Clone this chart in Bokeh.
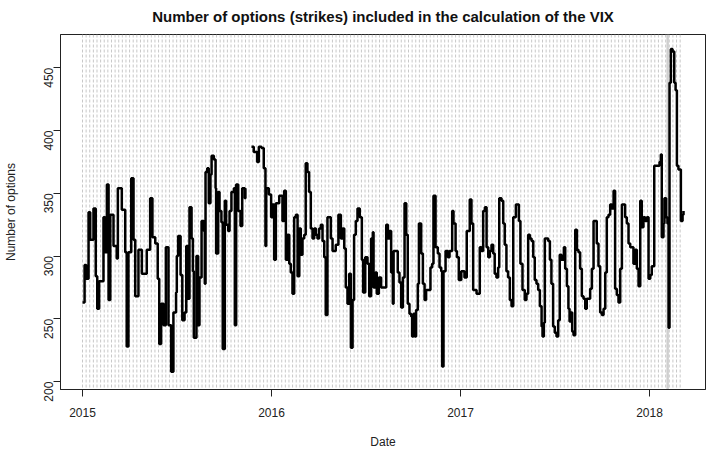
import math
import numpy as np
from bokeh.plotting import figure
from bokeh.models import Range1d, FixedTicker, Span, ColumnDataSource
from bokeh.embed import file_html
from bokeh.resources import INLINE

# ---- data (years since 2015-01-01, number of options) ----
# period before the data gap (Jan 2015 - mid Nov 2015)
period1_t = [0.000, 0.011, 0.020, 0.032, 0.041, 0.058, 0.070, 0.078, 0.088, 0.111, 0.120, 0.129, 0.138,
             0.147, 0.164, 0.181, 0.187, 0.208, 0.226, 0.234, 0.243, 0.258, 0.270, 0.279, 0.296, 0.314,
             0.340, 0.358, 0.370, 0.385, 0.398, 0.406, 0.416, 0.429, 0.441, 0.455, 0.469, 0.481, 0.495,
             0.499, 0.506, 0.519, 0.528, 0.540, 0.549, 0.559, 0.566, 0.577, 0.584, 0.589, 0.603, 0.612,
             0.619, 0.630, 0.642, 0.647, 0.651, 0.660, 0.668, 0.677, 0.683, 0.695, 0.704, 0.707, 0.718,
             0.725, 0.735, 0.742, 0.753, 0.760, 0.771, 0.778, 0.788, 0.801, 0.806, 0.813, 0.824, 0.836,
             0.845, 0.859, 0.862]
period1_n = [263, 293, 282, 335, 313, 338, 284, 258, 280, 331, 303, 357, 265,
             333, 308, 298, 354, 337, 303, 228, 303, 362, 313, 268, 305, 286,
             305, 346, 315, 310, 282, 230, 262, 245, 307, 245, 208, 255, 271,
             300, 316, 285, 249, 255, 308, 266, 339, 314, 288, 235, 300, 245,
             283, 328, 320, 278, 367, 370, 342, 365, 380, 377, 354, 302, 351,
             336, 327, 226, 344, 325, 320, 336, 351, 354, 245, 357, 336, 324,
             354, 346, 354]

# period after the data gap (late Nov 2015 - Mar 2018)
period2_t = [0.894, 0.906, 0.924, 0.933, 0.947, 0.959, 0.968, 0.972, 0.986, 0.998, 1.005, 1.014, 1.023,
             1.041, 1.058, 1.067, 1.076, 1.085, 1.094, 1.102, 1.111, 1.120, 1.129, 1.138, 1.147, 1.155,
             1.164, 1.173, 1.181, 1.190, 1.199, 1.208, 1.217, 1.226, 1.235, 1.243, 1.252, 1.261, 1.270,
             1.279, 1.287, 1.296, 1.305, 1.314, 1.323, 1.340, 1.354, 1.367, 1.376, 1.385, 1.393, 1.402,
             1.411, 1.420, 1.429, 1.437, 1.446, 1.455, 1.467, 1.478, 1.485, 1.496, 1.508, 1.517, 1.527,
             1.536, 1.540, 1.550, 1.557, 1.568, 1.580, 1.593, 1.607, 1.616, 1.624, 1.633, 1.642, 1.646,
             1.656, 1.668, 1.677, 1.686, 1.695, 1.704, 1.713, 1.721, 1.730, 1.739, 1.744, 1.751, 1.758,
             1.765, 1.774, 1.780, 1.792, 1.801, 1.810, 1.818, 1.832, 1.841, 1.850, 1.857, 1.868, 1.880,
             1.889, 1.898, 1.903, 1.910, 1.921, 1.933, 1.942, 1.956, 1.963, 1.974, 1.981, 1.991, 2.004,
             2.021, 2.033, 2.049, 2.058, 2.067, 2.085, 2.094, 2.102, 2.111, 2.120, 2.129, 2.138, 2.147,
             2.155, 2.164, 2.173, 2.181, 2.190, 2.199, 2.205, 2.217, 2.226, 2.234, 2.243, 2.252, 2.261,
             2.270, 2.279, 2.293, 2.300, 2.309, 2.317, 2.328, 2.340, 2.349, 2.358, 2.367, 2.376, 2.385,
             2.393, 2.402, 2.411, 2.420, 2.429, 2.434, 2.441, 2.446, 2.455, 2.464, 2.473, 2.481, 2.490,
             2.499, 2.508, 2.517, 2.525, 2.534, 2.547, 2.554, 2.563, 2.571, 2.577, 2.584, 2.591, 2.598,
             2.607, 2.616, 2.624, 2.633, 2.642, 2.651, 2.660, 2.668, 2.677, 2.686, 2.695, 2.704, 2.713,
             2.721, 2.730, 2.739, 2.748, 2.757, 2.766, 2.774, 2.783, 2.792, 2.801, 2.810, 2.818, 2.827,
             2.836, 2.845, 2.854, 2.862, 2.871, 2.880, 2.889, 2.898, 2.906, 2.915, 2.924, 2.933, 2.942,
             2.951, 2.959, 2.968, 2.977, 2.986, 2.995, 3.004, 3.012, 3.025, 3.039, 3.053, 3.060, 3.065,
             3.074, 3.079, 3.088, 3.095, 3.101, 3.106, 3.113, 3.122, 3.131, 3.138, 3.145, 3.153, 3.162,
             3.166, 3.175, 3.180]
period2_n = [387, 383, 375, 387, 386, 370, 308, 354, 349, 331, 341, 297, 342,
             348, 328, 352, 297, 317, 294, 287, 270, 331, 333, 284, 322, 301,
             314, 317, 374, 367, 351, 322, 314, 322, 317, 314, 322, 325, 312,
             299, 253, 331, 331, 314, 304, 309, 333, 314, 322, 306, 275, 262,
             286, 227, 265, 317, 328, 338, 331, 297, 271, 299, 294, 268, 314,
             319, 275, 287, 270, 283, 275, 275, 325, 314, 320, 287, 262, 304,
             304, 287, 279, 259, 283, 342, 317, 262, 254, 252, 236, 254, 236,
             257, 278, 326, 302, 278, 265, 273, 273, 291, 294, 348, 307, 302,
             291, 288, 212, 288, 304, 299, 304, 336, 326, 304, 299, 281, 288,
             283, 320, 345, 326, 273, 270, 270, 307, 304, 336, 339, 307, 299,
             304, 309, 302, 286, 283, 291, 346, 344, 326, 309, 288, 283, 265,
             260, 331, 341, 341, 328, 294, 273, 265, 270, 317, 314, 312, 299,
             281, 278, 273, 260, 244, 236, 247, 314, 314, 312, 297, 278, 244,
             239, 236, 249, 301, 297, 307, 290, 276, 258, 248, 255, 240, 237,
             321, 305, 303, 290, 268, 266, 258, 266, 266, 274, 290, 328, 328,
             310, 292, 255, 253, 258, 287, 331, 333, 341, 338, 352, 274, 269,
             263, 290, 341, 341, 331, 326, 310, 307, 307, 294, 305, 290, 276,
             344, 323, 331, 328, 331, 282, 285, 292, 372, 372, 375, 381, 315,
             326, 346, 331, 326, 243, 438, 465, 463, 438, 432, 372, 369, 369,
             328, 333, 336]

base_year = 2015
year_ticks = [2015, 2016, 2017, 2018]
value_ticks = [200, 250, 300, 350, 400, 450]
highlight_t = 3.096          # 5 Feb 2018
series_end_t = 3.180

title_text = "Number of options (strikes) included in the calculation of the VIX"
x_label = "Date"
y_label = "Number of options"

FONT = "Liberation Sans"

p = figure(width=708, height=451, output_backend="svg", toolbar_location=None,
           x_range=Range1d(2014.8836, 2018.2963), y_range=Range1d(193.77, 476.48),
           min_border_left=60, min_border_right=3, min_border_top=33, min_border_bottom=55,
           background_fill_color="white", border_fill_color="white")

p.title.text = title_text
p.title.align = "center"
p.title.vertical_align = "top"
p.title.text_font = FONT
p.title.text_font_size = "15px"
p.title.text_font_style = "bold"
p.title.text_color = "#111111"
p.title.standoff = 15

p.xgrid.visible = False
p.ygrid.visible = False
p.outline_line_color = "#222222"
p.outline_line_width = 1

# weekly dotted reference lines across the data span
week = 7 / 365.25
weekly = np.arange(0.0, series_end_t + 1e-9, week)
for t in weekly:
    s = Span(location=base_year + t, dimension="height", line_color="#c8c8c8",
             line_dash="3 2", line_width=1, level="underlay")
    p.add_layout(s)

hl = Span(location=base_year + highlight_t, dimension="height", line_color="#cfcfcf",
          line_width=2.5, level="underlay")
p.add_layout(hl)

for ts, ns in [(period1_t, period1_n), (period2_t, period2_n)]:
    src = ColumnDataSource(dict(x=[base_year + t for t in ts], y=ns))
    p.step("x", "y", source=src, mode="after", line_color="black", line_width=2.5)

for ax in (p.xaxis[0], p.yaxis[0]):
    ax.major_tick_out = 7
    ax.major_tick_in = 0
    ax.minor_tick_out = 0
    ax.minor_tick_in = 0
    ax.axis_line_color = "#222222"
    ax.major_tick_line_color = "#222222"
    ax.major_label_text_font = FONT
    ax.major_label_text_font_size = "12px"
    ax.major_label_text_color = "#222222"
    ax.axis_label_text_font = FONT
    ax.axis_label_text_font_size = "12px"
    ax.axis_label_text_font_style = "normal"
    ax.axis_label_text_color = "#222222"

p.xaxis.ticker = FixedTicker(ticks=year_ticks)
p.yaxis.ticker = FixedTicker(ticks=value_ticks)
p.xaxis.axis_label = x_label
p.yaxis.axis_label = y_label
p.xaxis.major_label_standoff = 11
p.xaxis.axis_label_standoff = 15
p.yaxis.major_label_standoff = 5
p.yaxis.axis_label_standoff = 19
p.yaxis.major_label_orientation = math.pi / 2

open("out.html", "w").write(file_html(p, INLINE))
